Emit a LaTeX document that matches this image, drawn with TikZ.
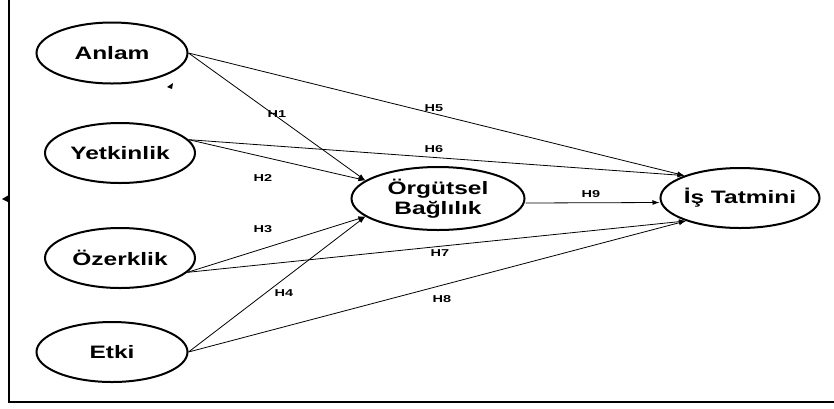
\documentclass[tikz,border=0pt]{standalone}
\usepackage{fontspec}
\usepackage{graphicx}
\setmainfont{Liberation Sans}
\usetikzlibrary{shapes.geometric,arrows.meta}
\newcommand{\wx}[1]{\scalebox{1.36}[1]{#1}}
\newcommand{\hx}[1]{\scalebox{1.45}[1]{#1}}
\begin{document}
\begin{tikzpicture}[x=1pt,y=-1pt,
  cons/.style={ellipse,draw,line width=2pt,inner sep=0pt,font=\fontsize{18}{20}\selectfont\bfseries,align=center},
  hyp/.style={inner sep=0pt,font=\fontsize{10}{11}\selectfont\bfseries},
  path/.style={line width=0.8pt,-{Latex[length=7pt,width=5pt]}},
  frame/.style={line width=2.2pt}]
\useasboundingbox (0,0) rectangle (834,408);
% frame
\coordinate (ftop) at (9,0);
\coordinate (fcorner) at (9,402);
\coordinate (fright) at (834,402);
\draw[frame] (ftop) -- (fcorner) -- (fright);
% stray arrow heads
\fill (167,87) -- (173,83) -- (172,89) -- cycle;
\fill (2,199) -- (8,195.5) -- (8,202) -- cycle;
% constructs
\node[cons,minimum width=151pt,minimum height=61pt] (anl) at (112,53) {\wx{Anlam}};
\node[cons,minimum width=150pt,minimum height=60pt] (yet) at (120,153) {\wx{Yetkinlik}};
\node[cons,minimum width=150pt,minimum height=60pt] (ozr) at (120,258) {\wx{Özerklik}};
\node[cons,minimum width=151pt,minimum height=60pt] (etk) at (112,352) {\wx{Etki}};
\node[cons,minimum width=173pt,minimum height=63pt] (org) at (438,198.5) {\wx{Örgütsel}\\[0pt]\wx{Bağlılık}};
\node[cons,minimum width=136pt,minimum height=60pt] (is) at (740,198) {\wx{İş Tatmini}};
% paths
\draw[path] (anl.east) -- (org.166);
\draw[path] (anl.east) -- (is.158);
\draw[path] (yet.11) -- (org.166);
\draw[path] (yet.11) -- (is.158);
\draw[path] (ozr.-12) -- (org.194);
\draw[path] (ozr.-12) -- (is.203);
\draw[path] (etk.east) -- (org.194);
\draw[path] (etk.east) -- (is.203);
\draw[path] ([yshift=-4.5pt]org.east) -- ([yshift=-4.5pt]is.west);
% labels
\node[hyp] (h1) at (277,114) {\hx{H1}};
\node[hyp] (h2) at (263,178) {\hx{H2}};
\node[hyp] (h3) at (263,229) {\hx{H3}};
\node[hyp] (h4) at (284,293) {\hx{H4}};
\node[hyp] (h5) at (434,108) {\hx{H5}};
\node[hyp] (h6) at (434,149) {\hx{H6}};
\node[hyp] (h7) at (440,253) {\hx{H7}};
\node[hyp] (h8) at (442,299) {\hx{H8}};
\node[hyp] (h9) at (591,194) {\hx{H9}};
\end{tikzpicture}
\end{document}
